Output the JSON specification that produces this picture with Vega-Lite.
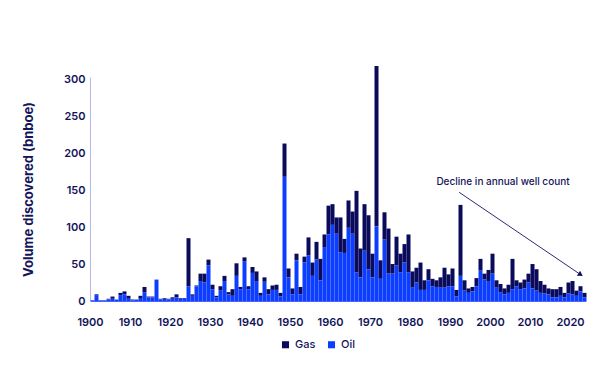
{
  "$schema": "https://vega.github.io/schema/vega-lite/v6.json",
  "width": 496,
  "height": 224,
  "autosize": {"type": "none"},
  "padding": {"left": 90, "top": 77, "right": 14, "bottom": 79},
  "background": "white",
  "config": {
    "view": {"stroke": null},
    "font": "Inter",
    "axisX": {
      "ticks": false, "grid": false, "labelPadding": 15, "labelFlush": false,
      "domainColor": "#4d63ff", "domainWidth": 1,
      "labelColor": "#14145a", "labelFontSize": 11, "labelFontWeight": 600
    },
    "axisY": {
      "ticks": false, "grid": false, "labelPadding": 5,
      "domainColor": "#b8b8e6",
      "labelColor": "#14145a", "labelFontSize": 11, "labelFontWeight": 600,
      "titleFontSize": 13, "titleFontWeight": "bold", "titleColor": "#14145a",
      "titleX": -62, "titleY": 112, "titleAlign": "center", "titleBaseline": "middle", "titleAngle": -90
    }
  },
  "datasets": {
    "vol": [
      {"year":1900,"Oil":1,"Gas":0},{"year":1901,"Oil":8,"Gas":1},{"year":1902,"Oil":1,"Gas":0},{"year":1903,"Oil":1,"Gas":0},
      {"year":1904,"Oil":2,"Gas":1},{"year":1905,"Oil":3,"Gas":3},{"year":1906,"Oil":2,"Gas":0},{"year":1907,"Oil":8,"Gas":3},
      {"year":1908,"Oil":9,"Gas":4},{"year":1909,"Oil":3,"Gas":4},{"year":1910,"Oil":1,"Gas":1},{"year":1911,"Oil":2,"Gas":0},
      {"year":1912,"Oil":3,"Gas":4},{"year":1913,"Oil":12,"Gas":7},{"year":1914,"Oil":5,"Gas":1},{"year":1915,"Oil":5,"Gas":1},
      {"year":1916,"Oil":29,"Gas":0},{"year":1917,"Oil":2,"Gas":1},{"year":1918,"Oil":3,"Gas":1},{"year":1919,"Oil":2,"Gas":1},
      {"year":1920,"Oil":3,"Gas":2},{"year":1921,"Oil":5,"Gas":4},{"year":1922,"Oil":3,"Gas":1},{"year":1923,"Oil":4,"Gas":0},
      {"year":1924,"Oil":20,"Gas":65},{"year":1925,"Oil":7,"Gas":2},{"year":1926,"Oil":20,"Gas":1},{"year":1927,"Oil":27,"Gas":10},
      {"year":1928,"Oil":25,"Gas":12},{"year":1929,"Oil":48,"Gas":8},{"year":1930,"Oil":16,"Gas":6},{"year":1931,"Oil":5,"Gas":2},
      {"year":1932,"Oil":14,"Gas":6},{"year":1933,"Oil":27,"Gas":7},{"year":1934,"Oil":9,"Gas":3},{"year":1935,"Oil":7,"Gas":9},
      {"year":1936,"Oil":34,"Gas":17},{"year":1937,"Oil":16,"Gas":3},{"year":1938,"Oil":54,"Gas":5},{"year":1939,"Oil":16,"Gas":4},
      {"year":1940,"Oil":38,"Gas":8},{"year":1941,"Oil":27,"Gas":13},{"year":1942,"Oil":7,"Gas":4},{"year":1943,"Oil":26,"Gas":6},
      {"year":1944,"Oil":9,"Gas":7},{"year":1945,"Oil":15,"Gas":6},{"year":1946,"Oil":15,"Gas":7},{"year":1947,"Oil":6,"Gas":5},
      {"year":1948,"Oil":168,"Gas":45},{"year":1949,"Oil":32,"Gas":12},{"year":1950,"Oil":9,"Gas":8},{"year":1951,"Oil":55,"Gas":9},
      {"year":1952,"Oil":9,"Gas":10},{"year":1953,"Oil":52,"Gas":8},{"year":1954,"Oil":62,"Gas":24},{"year":1955,"Oil":34,"Gas":18},
      {"year":1956,"Oil":56,"Gas":24},{"year":1957,"Oil":28,"Gas":29},{"year":1958,"Oil":73,"Gas":17},{"year":1959,"Oil":90,"Gas":39},
      {"year":1960,"Oil":103,"Gas":28},{"year":1961,"Oil":91,"Gas":22},{"year":1962,"Oil":66,"Gas":47},{"year":1963,"Oil":65,"Gas":19},
      {"year":1964,"Oil":99,"Gas":37},{"year":1965,"Oil":91,"Gas":30},{"year":1966,"Oil":39,"Gas":110},{"year":1967,"Oil":32,"Gas":39},
      {"year":1968,"Oil":68,"Gas":63},{"year":1969,"Oil":43,"Gas":73},{"year":1970,"Oil":32,"Gas":32},{"year":1971,"Oil":101,"Gas":217},
      {"year":1972,"Oil":30,"Gas":25},{"year":1973,"Oil":83,"Gas":37},{"year":1974,"Oil":37,"Gas":61},{"year":1975,"Oil":37,"Gas":13},
      {"year":1976,"Oil":48,"Gas":39},{"year":1977,"Oil":39,"Gas":25},{"year":1978,"Oil":52,"Gas":25},{"year":1979,"Oil":39,"Gas":51},
      {"year":1980,"Oil":18,"Gas":22},{"year":1981,"Oil":25,"Gas":20},{"year":1982,"Oil":15,"Gas":37},{"year":1983,"Oil":15,"Gas":13},
      {"year":1984,"Oil":28,"Gas":15},{"year":1985,"Oil":20,"Gas":10},{"year":1986,"Oil":19,"Gas":9},{"year":1987,"Oil":18,"Gas":14},
      {"year":1988,"Oil":18,"Gas":27},{"year":1989,"Oil":20,"Gas":16},{"year":1990,"Oil":20,"Gas":24},{"year":1991,"Oil":6,"Gas":9},
      {"year":1992,"Oil":34,"Gas":96},{"year":1993,"Oil":14,"Gas":14},{"year":1994,"Oil":11,"Gas":6},{"year":1995,"Oil":13,"Gas":6},
      {"year":1996,"Oil":20,"Gas":11},{"year":1997,"Oil":41,"Gas":16},{"year":1998,"Oil":29,"Gas":8},{"year":1999,"Oil":27,"Gas":15},
      {"year":2000,"Oil":37,"Gas":27},{"year":2001,"Oil":18,"Gas":10},{"year":2002,"Oil":12,"Gas":11},{"year":2003,"Oil":9,"Gas":8},
      {"year":2004,"Oil":11,"Gas":11},{"year":2005,"Oil":16,"Gas":41},{"year":2006,"Oil":20,"Gas":8},{"year":2007,"Oil":16,"Gas":9},
      {"year":2008,"Oil":17,"Gas":12},{"year":2009,"Oil":25,"Gas":12},{"year":2010,"Oil":17,"Gas":33},{"year":2011,"Oil":14,"Gas":29},
      {"year":2012,"Oil":11,"Gas":16},{"year":2013,"Oil":10,"Gas":12},{"year":2014,"Oil":9,"Gas":8},{"year":2015,"Oil":5,"Gas":11},
      {"year":2016,"Oil":5,"Gas":11},{"year":2017,"Oil":7,"Gas":12},{"year":2018,"Oil":5,"Gas":6},{"year":2019,"Oil":10,"Gas":15},
      {"year":2020,"Oil":9,"Gas":18},{"year":2021,"Oil":7,"Gas":7},{"year":2022,"Oil":13,"Gas":7},{"year":2023,"Oil":5,"Gas":6}
    ],
    "note": [
      {"year": 2003.25, "value": 161, "label": "Decline in annual well count"}
    ],
    "arrow": [
      {"year": 1992.3, "value": 147, "year2": 2022.65, "value2": 35.7}
    ]
  },
  "layer": [
    {
      "data": {"name": "vol"},
      "transform": [{"fold": ["Gas", "Oil"], "as": ["type", "value"]}],
      "mark": {"type": "bar", "binSpacing": 0, "clip": false},
      "encoding": {
        "x": {
          "field": "year", "type": "quantitative",
          "bin": {"step": 1, "extent": [1900, 2024]},
          "scale": {"domain": [1900, 2024], "nice": false, "zero": false},
          "title": null,
          "axis": {"values": [1900,1910,1920,1930,1940,1950,1960,1970,1980,1990,2000,2010,2020], "format": "d", "title": null}
        },
        "y": {
          "field": "value", "type": "quantitative", "aggregate": "sum", "stack": "zero",
          "scale": {"domain": [0, 303], "nice": false},
          "title": "Volume discovered (bnboe)",
          "axis": {"values": [0,50,100,150,200,250,300], "title": "Volume discovered (bnboe)"}
        },
        "color": {
          "field": "type", "type": "nominal",
          "scale": {"domain": ["Gas", "Oil"], "range": ["#0b0b5c", "#0d3dff"]},
          "legend": {
            "title": null, "orient": "none", "direction": "horizontal",
            "legendX": 190, "legendY": 262,
            "symbolType": "square", "symbolSize": 50, "symbolStrokeWidth": 0,
            "labelFontSize": 11, "labelColor": "#14145a", "labelFontWeight": 500,
            "labelOffset": 4, "columnPadding": 10, "padding": 0
          }
        },
        "order": {"field": "type", "sort": "descending"}
      }
    },
    {
      "data": {"name": "arrow"},
      "mark": {"type": "rule", "color": "#2b2b75", "strokeWidth": 1},
      "encoding": {
        "x": {"field": "year", "type": "quantitative", "scale": {"domain": [1900, 2024], "nice": false, "zero": false}, "title": null,
              "axis": {"values": [1900,1910,1920,1930,1940,1950,1960,1970,1980,1990,2000,2010,2020], "format": "d", "title": null}},
        "y": {"field": "value", "type": "quantitative", "scale": {"domain": [0, 303], "nice": false}, "title": "Volume discovered (bnboe)",
              "axis": {"values": [0,50,100,150,200,250,300], "title": "Volume discovered (bnboe)"}},
        "x2": {"field": "year2"},
        "y2": {"field": "value2"}
      }
    },
    {
      "data": {"name": "arrow"},
      "mark": {"type": "point", "shape": "triangle-right", "filled": true, "color": "#14145a", "size": 35, "angle": 34, "opacity": 1},
      "encoding": {
        "x": {"field": "year2", "type": "quantitative", "scale": {"domain": [1900, 2024], "nice": false, "zero": false}, "title": null,
              "axis": {"values": [1900,1910,1920,1930,1940,1950,1960,1970,1980,1990,2000,2010,2020], "format": "d", "title": null}},
        "y": {"field": "value2", "type": "quantitative", "scale": {"domain": [0, 303], "nice": false}, "title": "Volume discovered (bnboe)",
              "axis": {"values": [0,50,100,150,200,250,300], "title": "Volume discovered (bnboe)"}}
      }
    },
    {
      "data": {"name": "note"},
      "mark": {"type": "text", "align": "center", "baseline": "middle", "fontSize": 10, "fontWeight": 500, "color": "#14145a"},
      "encoding": {
        "x": {"field": "year", "type": "quantitative", "scale": {"domain": [1900, 2024], "nice": false, "zero": false}, "title": null,
              "axis": {"values": [1900,1910,1920,1930,1940,1950,1960,1970,1980,1990,2000,2010,2020], "format": "d", "title": null}},
        "y": {"field": "value", "type": "quantitative", "scale": {"domain": [0, 303], "nice": false}, "title": "Volume discovered (bnboe)",
              "axis": {"values": [0,50,100,150,200,250,300], "title": "Volume discovered (bnboe)"}},
        "text": {"field": "label"}
      }
    }
  ]
}
